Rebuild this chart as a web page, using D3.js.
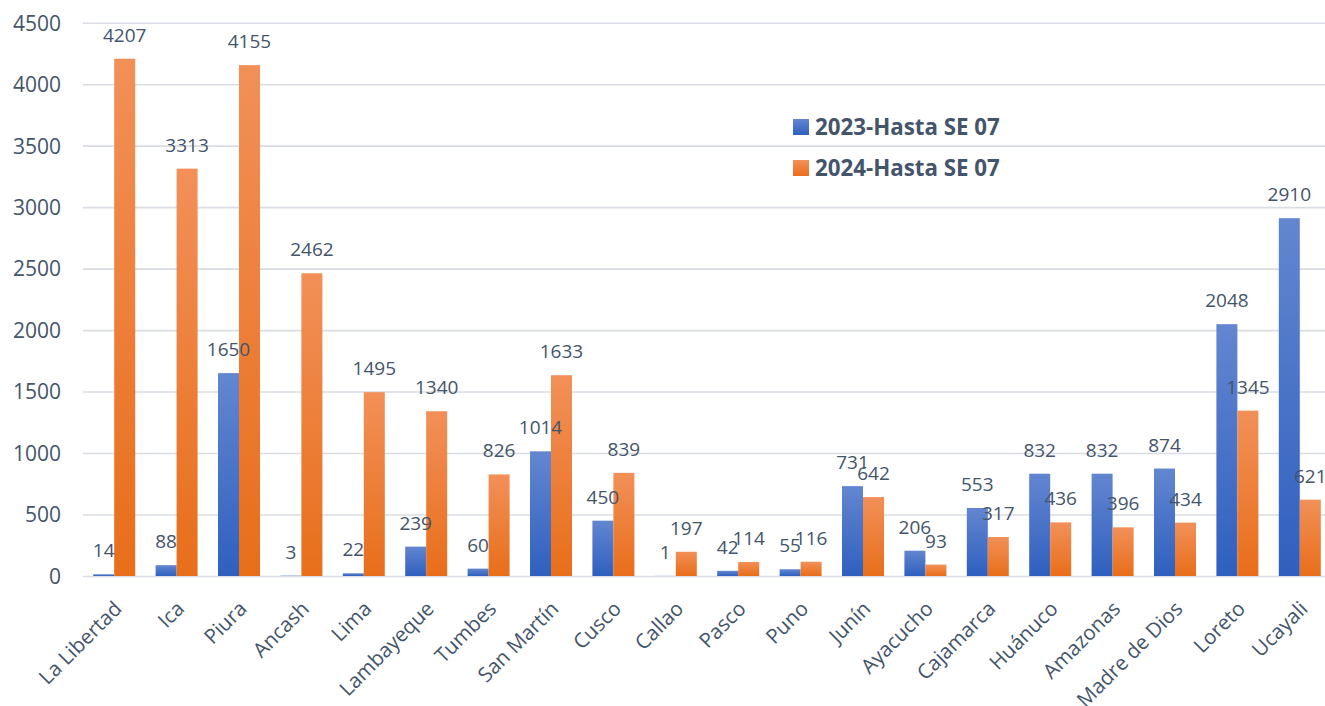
<!DOCTYPE html>
<html>
<head>
<meta charset="utf-8">
<script src="https://cdn.jsdelivr.net/npm/d3@7"></script>
<style>
html,body{margin:0;padding:0;background:#fff;}
svg{display:block;}
text{font-family:"Open Sans",sans-serif;fill:#44546a;}
</style>
</head>
<body>
<svg id="chart" width="1325" height="706"></svg>
<script>
const categories = ["La Libertad","Ica","Piura","Ancash","Lima","Lambayeque","Tumbes","San Martín","Cusco","Callao","Pasco","Puno","Junín","Ayacucho","Cajamarca","Huánuco","Amazonas","Madre de Dios","Loreto","Ucayali"];
const values2023 = [14,88,1650,3,22,239,60,1014,450,1,42,55,731,206,553,832,832,874,2048,2910];
const values2024 = [4207,3313,4155,2462,1495,1340,826,1633,839,197,114,116,642,93,317,436,396,434,1345,621];
const seriesNames = ["2023-Hasta SE 07","2024-Hasta SE 07"];
const yTicks = [0,500,1000,1500,2000,2500,3000,3500,4000,4500];

(function(){
const svg = d3.select("#chart");
const mLeft = 83, mRight = 1331, mTop = 22.7, mBottom = 576;

const x = d3.scaleBand().domain(categories).range([mLeft, mRight]).paddingInner(0.327).paddingOuter(0.1635);
const xs = d3.scaleBand().domain([0,1]).range([0, x.bandwidth()]);
const y = d3.scaleLinear().domain([0,4500]).range([mBottom, mTop]);

const defs = svg.append("defs");
const grads = [
  {id:"gBlue", top:"#6386d0", bot:"#2f60bf"},
  {id:"gOrange", top:"#f29058", bot:"#e86e1a"}
];
grads.forEach(g=>{
  const lg = defs.append("linearGradient").attr("id", g.id).attr("x1",0).attr("y1",0).attr("x2",0).attr("y2",1);
  lg.append("stop").attr("offset","0%").attr("stop-color", g.top);
  lg.append("stop").attr("offset","100%").attr("stop-color", g.bot);
});
const fills = ["url(#gBlue)","url(#gOrange)"];

// gridlines
const yAxis = d3.axisLeft(y).tickValues(yTicks).tickSize(-(mRight-mLeft)).tickFormat(d=>d);
const gy = svg.append("g").attr("transform",`translate(${mLeft},0)`).call(yAxis);
gy.select(".domain").remove();
gy.selectAll(".tick line").attr("stroke","#d9dde3").attr("stroke-width",1.6);
gy.selectAll(".tick text").attr("x",-22).attr("font-size","21px").attr("fill","#44546a").attr("dy","0.35em");

// bars
const series = [values2023, values2024];
series.forEach((vals, si)=>{
  svg.append("g").selectAll("rect").data(vals).join("rect")
    .attr("x",(d,i)=>x(categories[i]) + xs(si))
    .attr("width", xs.bandwidth())
    .attr("y", d=>y(d))
    .attr("height", d=>y(0)-y(d))
    .attr("fill", fills[si]);
});
// labels
series.forEach((vals, si)=>{
  svg.append("g").selectAll("text").data(vals).join("text")
    .attr("x",(d,i)=>x(categories[i]) + xs(si) + xs.bandwidth()/2)
    .attr("y", d=>y(d) - 17)
    .attr("text-anchor","middle")
    .attr("font-size","19px")
    .text(d=>d);
});

// x axis labels
const xAxis = d3.axisBottom(x).tickSize(0).tickPadding(0);
const gx = svg.append("g").attr("transform",`translate(0,${mBottom})`).call(xAxis);
gx.select(".domain").remove();
gx.selectAll(".tick text")
  .attr("font-size","20.5px").attr("fill","#44546a")
  .attr("text-anchor","end")
  .attr("dy",0).attr("y",0)
  .attr("transform","translate(9,34) rotate(-45)");

// legend
const lg = svg.append("g");
seriesNames.forEach((name, i)=>{
  const yy = 119 + i*41;
  lg.append("rect").attr("x",793).attr("y",yy).attr("width",16).attr("height",16).attr("fill",fills[i]);
  lg.append("text").attr("x",815).attr("y",yy+15.5).attr("font-size","22.3px").attr("font-weight","bold").text(name);
});
})();
</script>
</body>
</html>
